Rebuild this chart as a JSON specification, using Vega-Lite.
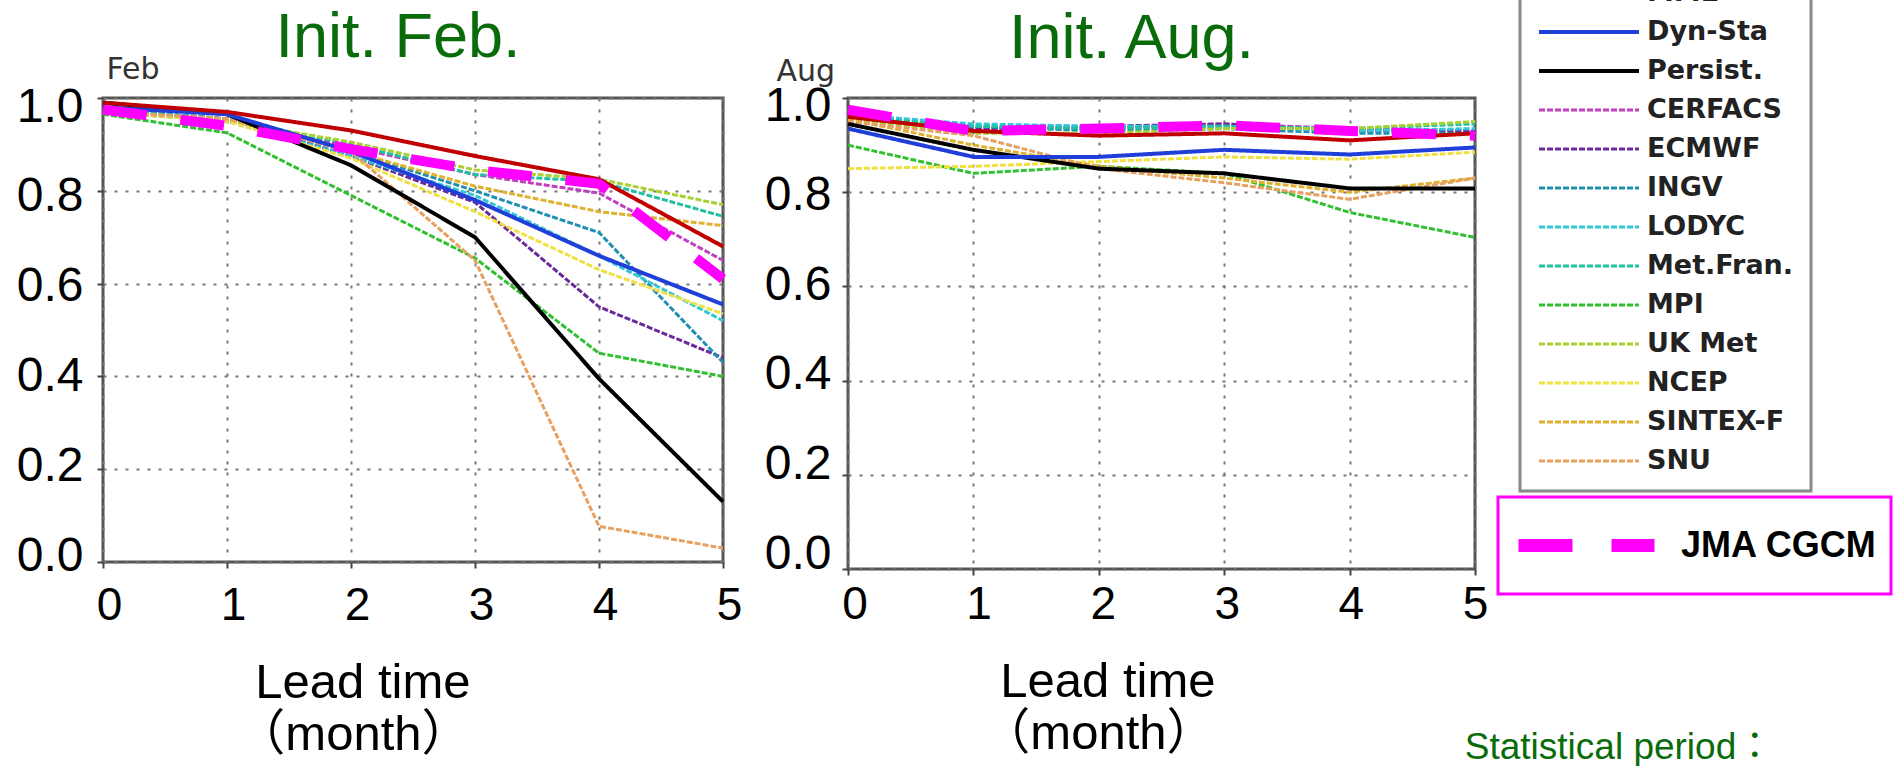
{
  "$schema": "https://vega.github.io/schema/vega-lite/v6.json",
  "background": "white",
  "padding": {"left": 14, "top": -39, "right": 0, "bottom": 0},
  "datasets": {
    "feb": [
      {"model":"CERFACS","lead":0,"value":0.975},{"model":"CERFACS","lead":1,"value":0.955},{"model":"CERFACS","lead":2,"value":0.895},{"model":"CERFACS","lead":3,"value":0.835},{"model":"CERFACS","lead":4,"value":0.795},{"model":"CERFACS","lead":5,"value":0.65},
      {"model":"ECMWF","lead":0,"value":0.975},{"model":"ECMWF","lead":1,"value":0.955},{"model":"ECMWF","lead":2,"value":0.875},{"model":"ECMWF","lead":3,"value":0.775},{"model":"ECMWF","lead":4,"value":0.55},{"model":"ECMWF","lead":5,"value":0.44},
      {"model":"INGV","lead":0,"value":0.975},{"model":"INGV","lead":1,"value":0.955},{"model":"INGV","lead":2,"value":0.885},{"model":"INGV","lead":3,"value":0.8},{"model":"INGV","lead":4,"value":0.71},{"model":"INGV","lead":5,"value":0.43},
      {"model":"LODYC","lead":0,"value":0.97},{"model":"LODYC","lead":1,"value":0.95},{"model":"LODYC","lead":2,"value":0.875},{"model":"LODYC","lead":3,"value":0.79},{"model":"LODYC","lead":4,"value":0.66},{"model":"LODYC","lead":5,"value":0.52},
      {"model":"Met.Fran.","lead":0,"value":0.975},{"model":"Met.Fran.","lead":1,"value":0.955},{"model":"Met.Fran.","lead":2,"value":0.9},{"model":"Met.Fran.","lead":3,"value":0.835},{"model":"Met.Fran.","lead":4,"value":0.82},{"model":"Met.Fran.","lead":5,"value":0.745},
      {"model":"MPI","lead":0,"value":0.965},{"model":"MPI","lead":1,"value":0.925},{"model":"MPI","lead":2,"value":0.79},{"model":"MPI","lead":3,"value":0.655},{"model":"MPI","lead":4,"value":0.45},{"model":"MPI","lead":5,"value":0.4},
      {"model":"UK Met","lead":0,"value":0.97},{"model":"UK Met","lead":1,"value":0.95},{"model":"UK Met","lead":2,"value":0.905},{"model":"UK Met","lead":3,"value":0.845},{"model":"UK Met","lead":4,"value":0.825},{"model":"UK Met","lead":5,"value":0.77},
      {"model":"NCEP","lead":0,"value":0.97},{"model":"NCEP","lead":1,"value":0.95},{"model":"NCEP","lead":2,"value":0.87},{"model":"NCEP","lead":3,"value":0.755},{"model":"NCEP","lead":4,"value":0.63},{"model":"NCEP","lead":5,"value":0.535},
      {"model":"SINTEX-F","lead":0,"value":0.97},{"model":"SINTEX-F","lead":1,"value":0.955},{"model":"SINTEX-F","lead":2,"value":0.885},{"model":"SINTEX-F","lead":3,"value":0.81},{"model":"SINTEX-F","lead":4,"value":0.755},{"model":"SINTEX-F","lead":5,"value":0.725},
      {"model":"SNU","lead":0,"value":0.97},{"model":"SNU","lead":1,"value":0.955},{"model":"SNU","lead":2,"value":0.885},{"model":"SNU","lead":3,"value":0.65},{"model":"SNU","lead":4,"value":0.077},{"model":"SNU","lead":5,"value":0.03},
      {"model":"Persist.","lead":0,"value":0.99},{"model":"Persist.","lead":1,"value":0.965},{"model":"Persist.","lead":2,"value":0.855},{"model":"Persist.","lead":3,"value":0.7},{"model":"Persist.","lead":4,"value":0.395},{"model":"Persist.","lead":5,"value":0.13},
      {"model":"Dyn-Sta","lead":0,"value":0.98},{"model":"Dyn-Sta","lead":1,"value":0.965},{"model":"Dyn-Sta","lead":2,"value":0.885},{"model":"Dyn-Sta","lead":3,"value":0.78},{"model":"Dyn-Sta","lead":4,"value":0.66},{"model":"Dyn-Sta","lead":5,"value":0.555},
      {"model":"MME","lead":0,"value":0.99},{"model":"MME","lead":1,"value":0.97},{"model":"MME","lead":2,"value":0.93},{"model":"MME","lead":3,"value":0.875},{"model":"MME","lead":4,"value":0.825},{"model":"MME","lead":5,"value":0.68}
    ],
    "aug": [
      {"model":"CERFACS","lead":0,"value":0.96},{"model":"CERFACS","lead":1,"value":0.935},{"model":"CERFACS","lead":2,"value":0.935},{"model":"CERFACS","lead":3,"value":0.945},{"model":"CERFACS","lead":4,"value":0.935},{"model":"CERFACS","lead":5,"value":0.93},
      {"model":"ECMWF","lead":0,"value":0.955},{"model":"ECMWF","lead":1,"value":0.935},{"model":"ECMWF","lead":2,"value":0.94},{"model":"ECMWF","lead":3,"value":0.945},{"model":"ECMWF","lead":4,"value":0.93},{"model":"ECMWF","lead":5,"value":0.93},
      {"model":"INGV","lead":0,"value":0.96},{"model":"INGV","lead":1,"value":0.94},{"model":"INGV","lead":2,"value":0.93},{"model":"INGV","lead":3,"value":0.935},{"model":"INGV","lead":4,"value":0.925},{"model":"INGV","lead":5,"value":0.925},
      {"model":"LODYC","lead":0,"value":0.965},{"model":"LODYC","lead":1,"value":0.945},{"model":"LODYC","lead":2,"value":0.94},{"model":"LODYC","lead":3,"value":0.94},{"model":"LODYC","lead":4,"value":0.93},{"model":"LODYC","lead":5,"value":0.935},
      {"model":"Met.Fran.","lead":0,"value":0.96},{"model":"Met.Fran.","lead":1,"value":0.94},{"model":"Met.Fran.","lead":2,"value":0.935},{"model":"Met.Fran.","lead":3,"value":0.94},{"model":"Met.Fran.","lead":4,"value":0.935},{"model":"Met.Fran.","lead":5,"value":0.945},
      {"model":"MPI","lead":0,"value":0.9},{"model":"MPI","lead":1,"value":0.84},{"model":"MPI","lead":2,"value":0.855},{"model":"MPI","lead":3,"value":0.84},{"model":"MPI","lead":4,"value":0.757},{"model":"MPI","lead":5,"value":0.704},
      {"model":"UK Met","lead":0,"value":0.955},{"model":"UK Met","lead":1,"value":0.925},{"model":"UK Met","lead":2,"value":0.925},{"model":"UK Met","lead":3,"value":0.935},{"model":"UK Met","lead":4,"value":0.935},{"model":"UK Met","lead":5,"value":0.95},
      {"model":"NCEP","lead":0,"value":0.85},{"model":"NCEP","lead":1,"value":0.855},{"model":"NCEP","lead":2,"value":0.865},{"model":"NCEP","lead":3,"value":0.875},{"model":"NCEP","lead":4,"value":0.87},{"model":"NCEP","lead":5,"value":0.885},
      {"model":"SINTEX-F","lead":0,"value":0.955},{"model":"SINTEX-F","lead":1,"value":0.9},{"model":"SINTEX-F","lead":2,"value":0.855},{"model":"SINTEX-F","lead":3,"value":0.83},{"model":"SINTEX-F","lead":4,"value":0.8},{"model":"SINTEX-F","lead":5,"value":0.83},
      {"model":"SNU","lead":0,"value":0.95},{"model":"SNU","lead":1,"value":0.92},{"model":"SNU","lead":2,"value":0.85},{"model":"SNU","lead":3,"value":0.82},{"model":"SNU","lead":4,"value":0.785},{"model":"SNU","lead":5,"value":0.83},
      {"model":"Persist.","lead":0,"value":0.945},{"model":"Persist.","lead":1,"value":0.89},{"model":"Persist.","lead":2,"value":0.85},{"model":"Persist.","lead":3,"value":0.84},{"model":"Persist.","lead":4,"value":0.808},{"model":"Persist.","lead":5,"value":0.808},
      {"model":"Dyn-Sta","lead":0,"value":0.935},{"model":"Dyn-Sta","lead":1,"value":0.875},{"model":"Dyn-Sta","lead":2,"value":0.875},{"model":"Dyn-Sta","lead":3,"value":0.89},{"model":"Dyn-Sta","lead":4,"value":0.88},{"model":"Dyn-Sta","lead":5,"value":0.895},
      {"model":"MME","lead":0,"value":0.96},{"model":"MME","lead":1,"value":0.93},{"model":"MME","lead":2,"value":0.92},{"model":"MME","lead":3,"value":0.925},{"model":"MME","lead":4,"value":0.91},{"model":"MME","lead":5,"value":0.925}
    ],
    "jma_feb": [
      {"series":"JMA CGCM","lead":0,"value":0.975},{"series":"JMA CGCM","lead":1,"value":0.94},{"series":"JMA CGCM","lead":2,"value":0.89},{"series":"JMA CGCM","lead":3,"value":0.845},{"series":"JMA CGCM","lead":4,"value":0.815},{"series":"JMA CGCM","lead":5,"value":0.61}
    ],
    "jma_aug": [
      {"series":"JMA CGCM","lead":0,"value":0.975},{"series":"JMA CGCM","lead":1,"value":0.93},{"series":"JMA CGCM","lead":2,"value":0.935},{"series":"JMA CGCM","lead":3,"value":0.942},{"series":"JMA CGCM","lead":4,"value":0.93},{"series":"JMA CGCM","lead":5,"value":0.92}
    ]
  },
  "title": {
    "text": "Statistical period：",
    "orient": "bottom",
    "anchor": "start",
    "frame": "bounds",
    "dx": 1450,
    "offset": -2,
    "baseline": "alphabetic",
    "font": "Liberation Sans, Noto Sans CJK JP",
    "fontSize": 37,
    "fontWeight": "normal",
    "color": "#0a6b0a"
  },
  "spacing": 17,
  "hconcat": [
    {
      "width": 620,
      "height": 464,
      "title": {"text": "Init. Feb.", "anchor": "middle", "frame": "group", "dx": -15, "offset": -66, "baseline": "alphabetic", "fontSize": 63, "font": "Liberation Sans", "fontWeight": "normal", "color": "#0a6b0a"},
      "layer": [
        {
          "data": {"name": "feb"},
          "mark": {"type": "line", "strokeCap": "butt"},
          "encoding": {
            "x": {"field": "lead", "type": "quantitative", "scale": {"domain": [0, 5], "nice": false},
              "axis": {"values": [0,1,2,3,4,5], "format": "d", "title": ["Lead time", "（month）"], "titleX": 367, "titleY": 135, "titleAlign": "right", "titleBaseline": "alphabetic", "titleLineHeight": 52, "labelPadding": 15, "labelOffset": 6}},
            "y": {"field": "value", "type": "quantitative", "scale": {"domain": [0, 1], "nice": false},
              "axis": {"values": [0,0.2,0.4,0.6,0.8,1.0], "format": ".1f", "title": "Feb", "titleAngle": 0, "titleX": 3, "titleY": -20, "titleAlign": "left", "titleBaseline": "alphabetic", "titleFont": "DejaVu Sans", "titleFontSize": 30, "titleColor": "#333", "labelPadding": 14, "labelOffset": {"expr": "-6 + 15 * datum.value"}}},
            "color": {"field": "model", "type": "nominal",
              "scale": {"domain": ["MME","Dyn-Sta","Persist.","CERFACS","ECMWF","INGV","LODYC","Met.Fran.","MPI","UK Met","NCEP","SINTEX-F","SNU"],
                        "range": ["#c00000","#1f3fd8","#000000","#c040c0","#6a2a9a","#2090b0","#30c8d8","#20c0a0","#30c030","#a8d030","#f0e040","#e0b030","#e8a060"]},
              "legend": {"title": null, "orient": "none", "legendX": 1417, "legendY": -135, "symbolType": "stroke", "symbolSize": 10000, "clipHeight": 26, "rowPadding": 12, "labelOffset": 6, "labelFont": "DejaVu Sans", "labelFontWeight": "bold", "labelFontSize": 27, "labelColor": "#222", "padding": 17, "strokeColor": "#888", "fillColor": "white"}},
            "strokeDash": {"field": "model", "type": "nominal",
              "scale": {"domain": ["MME","Dyn-Sta","Persist.","CERFACS","ECMWF","INGV","LODYC","Met.Fran.","MPI","UK Met","NCEP","SINTEX-F","SNU"],
                        "range": [[1,0],[1,0],[1,0],[6,2],[6,2],[6,2],[6,2],[6,2],[6,2],[6,2],[6,2],[6,2],[6,2]]},
              "legend": {"title": null, "orient": "none", "legendX": 1417, "legendY": -135, "symbolType": "stroke", "symbolSize": 10000, "clipHeight": 26, "rowPadding": 12, "labelOffset": 6, "labelFont": "DejaVu Sans", "labelFontWeight": "bold", "labelFontSize": 27, "labelColor": "#222", "padding": 17, "strokeColor": "#888", "fillColor": "white"}},
            "strokeWidth": {"field": "model", "type": "nominal",
              "scale": {"type": "ordinal", "domain": ["MME","Dyn-Sta","Persist.","CERFACS","ECMWF","INGV","LODYC","Met.Fran.","MPI","UK Met","NCEP","SINTEX-F","SNU"],
                        "range": [4,4,4,3,3,3,3,3,3,3,3,3,3]},
              "legend": {"title": null, "orient": "none", "legendX": 1417, "legendY": -135, "symbolType": "stroke", "symbolSize": 10000, "clipHeight": 26, "rowPadding": 12, "labelOffset": 6, "labelFont": "DejaVu Sans", "labelFontWeight": "bold", "labelFontSize": 27, "labelColor": "#222", "padding": 17, "strokeColor": "#888", "fillColor": "white"}}
          }
        },
        {
          "data": {"name": "jma_feb"},
          "mark": {"type": "line", "color": "#ff00ff", "strokeWidth": 10, "strokeDash": [44, 34], "strokeCap": "butt"},
          "encoding": {
            "x": {"field": "lead", "type": "quantitative"},
            "y": {"field": "value", "type": "quantitative"},
            "opacity": {"field": "series", "type": "nominal", "scale": {"type": "ordinal", "domain": ["JMA CGCM"], "range": [1]},
              "legend": {"title": null, "orient": "none", "legendX": 1395, "legendY": 399, "symbolType": "stroke", "symbolSize": 18496, "symbolStrokeWidth": 13, "symbolDash": [54, 39], "symbolStrokeColor": "#ff00ff", "clipHeight": 69, "labelOffset": 20, "labelLimit": 800, "labelFont": "Liberation Sans", "labelFontWeight": "bold", "labelFontSize": 36, "labelColor": "#000", "padding": 14, "strokeColor": "#ff00ff", "fillColor": "white", "labelExpr": "datum.label + '              '"}}
          }
        }
      ]
    },
    {
      "width": 627,
      "height": 471,
      "title": {"text": "Init. Aug.", "anchor": "middle", "frame": "group", "dx": -30, "offset": -65, "baseline": "alphabetic", "fontSize": 63, "font": "Liberation Sans", "fontWeight": "normal", "color": "#0a6b0a"},
      "layer": [
        {
          "data": {"name": "aug"},
          "mark": {"type": "line", "strokeCap": "butt"},
          "encoding": {
            "x": {"field": "lead", "type": "quantitative", "scale": {"domain": [0, 5], "nice": false},
              "axis": {"values": [0,1,2,3,4,5], "format": "d", "title": ["Lead time", "（month）"], "titleX": 367, "titleY": 127, "titleAlign": "right", "titleBaseline": "alphabetic", "titleLineHeight": 52, "labelPadding": 7, "labelOffset": {"expr": "6.5 - 1.3 * datum.value"}}},
            "y": {"field": "value", "type": "quantitative", "scale": {"domain": [0, 1], "nice": false},
              "axis": {"values": [0,0.2,0.4,0.6,0.8,1.0], "format": ".1f", "title": "Aug", "titleAngle": 0, "titleX": -72, "titleY": -18, "titleAlign": "left", "titleBaseline": "alphabetic", "titleFont": "DejaVu Sans", "titleFontSize": 30, "titleColor": "#333", "labelPadding": 11, "labelOffset": {"expr": "-15 + 23 * datum.value"}}},
            "color": {"field": "model", "type": "nominal",
              "scale": {"domain": ["MME","Dyn-Sta","Persist.","CERFACS","ECMWF","INGV","LODYC","Met.Fran.","MPI","UK Met","NCEP","SINTEX-F","SNU"],
                        "range": ["#c00000","#1f3fd8","#000000","#c040c0","#6a2a9a","#2090b0","#30c8d8","#20c0a0","#30c030","#a8d030","#f0e040","#e0b030","#e8a060"]},
              "legend": {"title": null, "orient": "none", "legendX": 1417, "legendY": -135, "symbolType": "stroke", "symbolSize": 10000, "clipHeight": 26, "rowPadding": 12, "labelOffset": 6, "labelFont": "DejaVu Sans", "labelFontWeight": "bold", "labelFontSize": 27, "labelColor": "#222", "padding": 17, "strokeColor": "#888", "fillColor": "white"}},
            "strokeDash": {"field": "model", "type": "nominal",
              "scale": {"domain": ["MME","Dyn-Sta","Persist.","CERFACS","ECMWF","INGV","LODYC","Met.Fran.","MPI","UK Met","NCEP","SINTEX-F","SNU"],
                        "range": [[1,0],[1,0],[1,0],[6,2],[6,2],[6,2],[6,2],[6,2],[6,2],[6,2],[6,2],[6,2],[6,2]]},
              "legend": {"title": null, "orient": "none", "legendX": 1417, "legendY": -135, "symbolType": "stroke", "symbolSize": 10000, "clipHeight": 26, "rowPadding": 12, "labelOffset": 6, "labelFont": "DejaVu Sans", "labelFontWeight": "bold", "labelFontSize": 27, "labelColor": "#222", "padding": 17, "strokeColor": "#888", "fillColor": "white"}},
            "strokeWidth": {"field": "model", "type": "nominal",
              "scale": {"type": "ordinal", "domain": ["MME","Dyn-Sta","Persist.","CERFACS","ECMWF","INGV","LODYC","Met.Fran.","MPI","UK Met","NCEP","SINTEX-F","SNU"],
                        "range": [4,4,4,3,3,3,3,3,3,3,3,3,3]},
              "legend": {"title": null, "orient": "none", "legendX": 1417, "legendY": -135, "symbolType": "stroke", "symbolSize": 10000, "clipHeight": 26, "rowPadding": 12, "labelOffset": 6, "labelFont": "DejaVu Sans", "labelFontWeight": "bold", "labelFontSize": 27, "labelColor": "#222", "padding": 17, "strokeColor": "#888", "fillColor": "white"}}
          }
        },
        {
          "data": {"name": "jma_aug"},
          "mark": {"type": "line", "color": "#ff00ff", "strokeWidth": 10, "strokeDash": [44, 34], "strokeCap": "butt"},
          "encoding": {
            "x": {"field": "lead", "type": "quantitative"},
            "y": {"field": "value", "type": "quantitative"},
            "opacity": {"field": "series", "type": "nominal", "scale": {"type": "ordinal", "domain": ["JMA CGCM"], "range": [1]},
              "legend": {"title": null, "orient": "none", "legendX": 1395, "legendY": 399, "symbolType": "stroke", "symbolSize": 18496, "symbolStrokeWidth": 13, "symbolDash": [54, 39], "symbolStrokeColor": "#ff00ff", "clipHeight": 69, "labelOffset": 20, "labelLimit": 800, "labelFont": "Liberation Sans", "labelFontWeight": "bold", "labelFontSize": 36, "labelColor": "#000", "padding": 14, "strokeColor": "#ff00ff", "fillColor": "white", "labelExpr": "datum.label + '              '"}}
          }
        }
      ]
    }
  ],
  "config": {
    "view": {"stroke": "#555", "strokeWidth": 3},
    "axis": {
      "domain": false,
      "labelFont": "Liberation Sans",
      "labelFontSize": 48,
      "labelColor": "#000",
      "labelFlush": false,
      "labelOverlap": false,
      "tickColor": "#444",
      "tickWidth": 2,
      "tickSize": 6,
      "grid": true,
      "gridColor": "#777",
      "gridDash": [3, 8],
      "gridWidth": 2,
      "titleFont": "Liberation Sans, Noto Sans CJK JP",
      "titleFontSize": 49,
      "titleFontWeight": "normal",
      "titleColor": "#000"
    },
    "axisX": {"labelFontSize": 46},
    "legend": {"strokeWidth": 3}
  }
}
